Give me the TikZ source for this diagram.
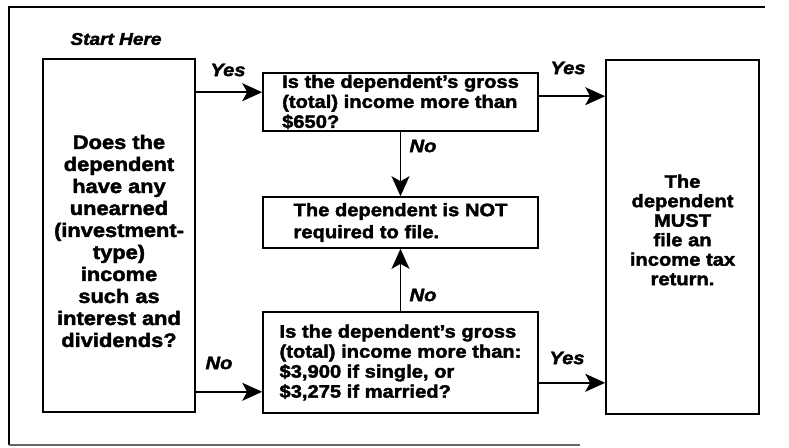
\documentclass[tikz,border=0pt]{standalone}
\usepackage{fontspec}
\setmainfont{Liberation Sans}[FakeStretch=1.12, BoldFeatures={FakeBold=2.2}, BoldItalicFeatures={FakeBold=2.2}]
\usetikzlibrary{arrows.meta,calc}
\tikzset{
  box/.style={draw, line width=1.6pt, inner sep=0pt},
  txt/.style={font=\bfseries\fontsize{18}{20}\selectfont},
  lbl/.style={font=\bfseries\itshape\fontsize{18}{20}\selectfont, inner sep=0pt},
  arr/.style={line width=1.6pt, -{Stealth[length=20pt,width=18pt,inset=5pt]}},
  frame/.style={line width=1.8pt}
}
\begin{document}
\begin{tikzpicture}[x=1pt,y=-1pt]
\useasboundingbox (0,0) rectangle (789,447);
% frame
\draw[frame] (765,7) -- (9,7) -- (9,445);
\draw[line width=1.2pt, black!60] (9,445) -- (580,445);

% boxes
\node[box, minimum width=152pt, minimum height=353pt] (q0) at (119,235.5) {};
\node[align=center, inner sep=0pt, font=\bfseries\fontsize{19.5}{22}\selectfont] (q0t) at (119,241)
  {Does the\\dependent\\have any\\unearned\\(investment-\\type)\\income\\such as\\interest and\\dividends?};
\node[box, txt, minimum width=275pt, minimum height=58pt, align=left] (q1) at (400.5,102)
  {Is the dependent's gross\\(total) income more than\\\$650?};
\node[box, txt, minimum width=275pt, minimum height=51pt, align=left,
      font=\bfseries\fontsize{18}{22}\selectfont] (q2) at (400.5,222.5)
  {The dependent is NOT\\required to file.};
\node[box, txt, minimum width=275pt, minimum height=101pt, align=left] (q3) at (400.5,362.5)
  {Is the dependent's gross\\(total) income more than:\\\$3,900 if single, or\\\$3,275 if married?};
\node[box, minimum width=153pt, minimum height=354pt] (q4) at (682.5,237) {};
\node[align=center, inner sep=0pt, font=\bfseries\fontsize{18}{19.5}\selectfont] (q4t) at (682.5,230)
  {The\\dependent\\MUST\\file an\\income tax\\return.};

% start label
\node[lbl, font=\bfseries\itshape\fontsize{17}{20}\selectfont] (start) at (116,39) {Start Here};

% connector end points
\coordinate (e1) at ($(q1.north west)+(0,20)$);
\coordinate (e2) at ($(q4.north west)+(0,37)$);
\coordinate (e5) at ($(q3.south west)+(0,-22)$);
\coordinate (e6) at ($(q4.south west)+(0,-32)$);

% connectors
\draw[arr] (q0.east |- e1) -- (e1);
\draw[arr] (q1.east |- e2) -- (e2);
\draw[arr] (q1.south) -- (q2.north);
\draw[arr] (q3.north) -- (q2.south);
\draw[arr] (q0.east |- e5) -- (e5);
\draw[arr] (q3.east |- e6) -- (e6);

% labels
\node[lbl] (y1) at (228,70) {Yes};
\node[lbl] (y2) at (568,68) {Yes};
\node[lbl] (n1) at (423,146) {No};
\node[lbl] (n2) at (423,295) {No};
\node[lbl] (n3) at (219,363) {No};
\node[lbl] (y3) at (567,358) {Yes};
\end{tikzpicture}
\end{document}
